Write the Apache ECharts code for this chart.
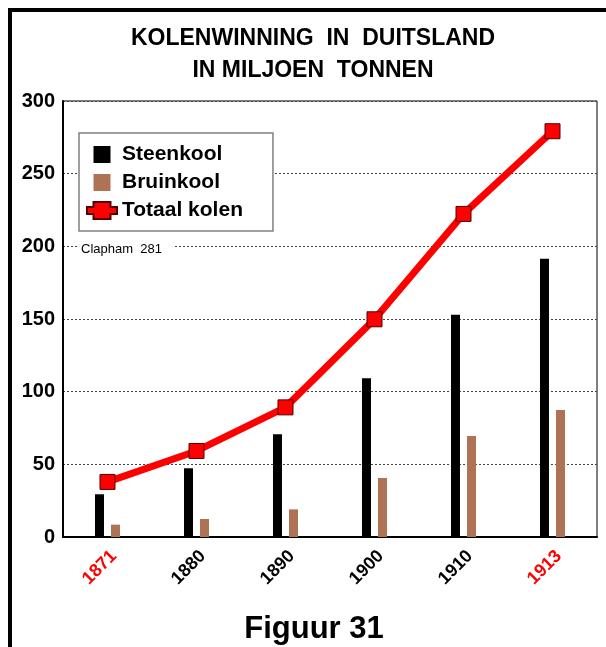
<!DOCTYPE html>
<html>
<head>
<meta charset="utf-8">
<script src="https://cdn.jsdelivr.net/npm/echarts@6/dist/echarts.min.js"></script>
<style>
html,body{margin:0;padding:0;background:#fff;}
#c{width:606px;height:647px;}
</style>
</head>
<body>
<div id="c"></div>
<script>
var years = ['1871', '1880', '1890', '1900', '1910', '1913'];
var steenkool = [29.4, 47.3, 70.7, 109.2, 153.0, 191.5];
var bruinkool = [8.5, 12.4, 19.0, 40.6, 69.5, 87.4];
var totaal = [37.9, 59.2, 89.2, 149.8, 222.3, 279.2];
var redYears = ['1871', '1913'];
var yTicks = [0, 50, 100, 150, 200, 250, 300];

var FONT = 'Liberation Sans, Arial, sans-serif';
var chart = echarts.init(document.getElementById('c'), null, {renderer: 'canvas'});

var squareIcon = 'path://M0,0L10,0L10,10L0,10Z';
var lineIcon = 'path://M0,5L6.5,5L6.5,0L23.5,0L23.5,5L30,5L30,12L23.5,12L23.5,17L6.5,17L6.5,12L0,12Z';

chart.setOption({
  animation: false,
  backgroundColor: '#fff',
  textStyle: {fontFamily: FONT},
  grid: {left: 63, right: 9, top: 101, bottom: 110, show: true, borderColor: '#000', borderWidth: 1, backgroundColor: 'transparent'},
  legend: {
    orient: 'vertical',
    left: 79, top: 133,
    padding: [11, 30, 10, 7],
    itemWidth: 30, itemHeight: 17, itemGap: 7,
    backgroundColor: '#fff',
    borderColor: '#808080', borderWidth: 1.5,
    textStyle: {fontSize: 21, fontWeight: 'bold', color: '#000', fontFamily: FONT, lineHeight: 21},
    data: [
      {name: 'Steenkool', icon: squareIcon},
      {name: 'Bruinkool', icon: squareIcon},
      {name: 'Totaal kolen', icon: lineIcon}
    ],
    z: 10
  },
  xAxis: {
    type: 'category',
    data: years,
    axisLine: {lineStyle: {color: '#000', width: 2}},
    axisTick: {show: false},
    axisLabel: {
      rotate: 45,
      fontSize: 18, fontWeight: 'bold', fontFamily: FONT,
      align: 'right', verticalAlign: 'top', margin: 10,
      color: function (v) { return redYears.indexOf(v) >= 0 ? '#ff0000' : '#000'; }
    },
    splitLine: {show: false}
  },
  yAxis: {
    type: 'value',
    min: yTicks[0], max: yTicks[yTicks.length - 1], interval: 50,
    axisLine: {show: true, lineStyle: {color: '#000', width: 2}},
    axisTick: {show: false},
    axisLabel: {fontSize: 20, fontWeight: 'bold', color: '#000', margin: 8, fontFamily: FONT},
    splitLine: {show: true, lineStyle: {color: '#444', width: 1, type: [2, 2]}}
  },
  series: [
    {name: 'Steenkool', type: 'bar', data: steenkool, barWidth: 9, barGap: '78%', itemStyle: {color: '#000'}},
    {name: 'Bruinkool', type: 'bar', data: bruinkool, barWidth: 9, itemStyle: {color: '#B07254'}},
    {name: 'Totaal kolen', type: 'line', data: totaal, symbol: 'rect', symbolSize: 15,
     lineStyle: {color: '#ff0000', width: 7},
     itemStyle: {color: '#ff0000', borderColor: '#550000', borderWidth: 1}, z: 5}
  ],
  graphic: [
    {type: 'rect', shape: {x: 10, y: 10, width: 900, height: 900}, style: {fill: 'none', stroke: '#000', lineWidth: 4}, z: 100},
    {type: 'text', x: 313, y: 39, style: {text: 'KOLENWINNING  IN  DUITSLAND', font: 'bold 23px ' + FONT, fill: '#000', align: 'center', verticalAlign: 'middle'}},
    {type: 'text', x: 313, y: 71, style: {text: 'IN MILJOEN  TONNEN', font: 'bold 23px ' + FONT, fill: '#000', align: 'center', verticalAlign: 'middle'}},
    {type: 'text', x: 78, y: 241, style: {text: 'Clapham  281', font: '13px ' + FONT, fill: '#000', backgroundColor: '#fff', padding: [2, 13, 2, 3]}, z: 5},
    {type: 'text', x: 314, y: 629, style: {text: 'Figuur 31', font: 'bold 31px ' + FONT, fill: '#000', align: 'center', verticalAlign: 'middle'}}
  ]
});
</script>
</body>
</html>
